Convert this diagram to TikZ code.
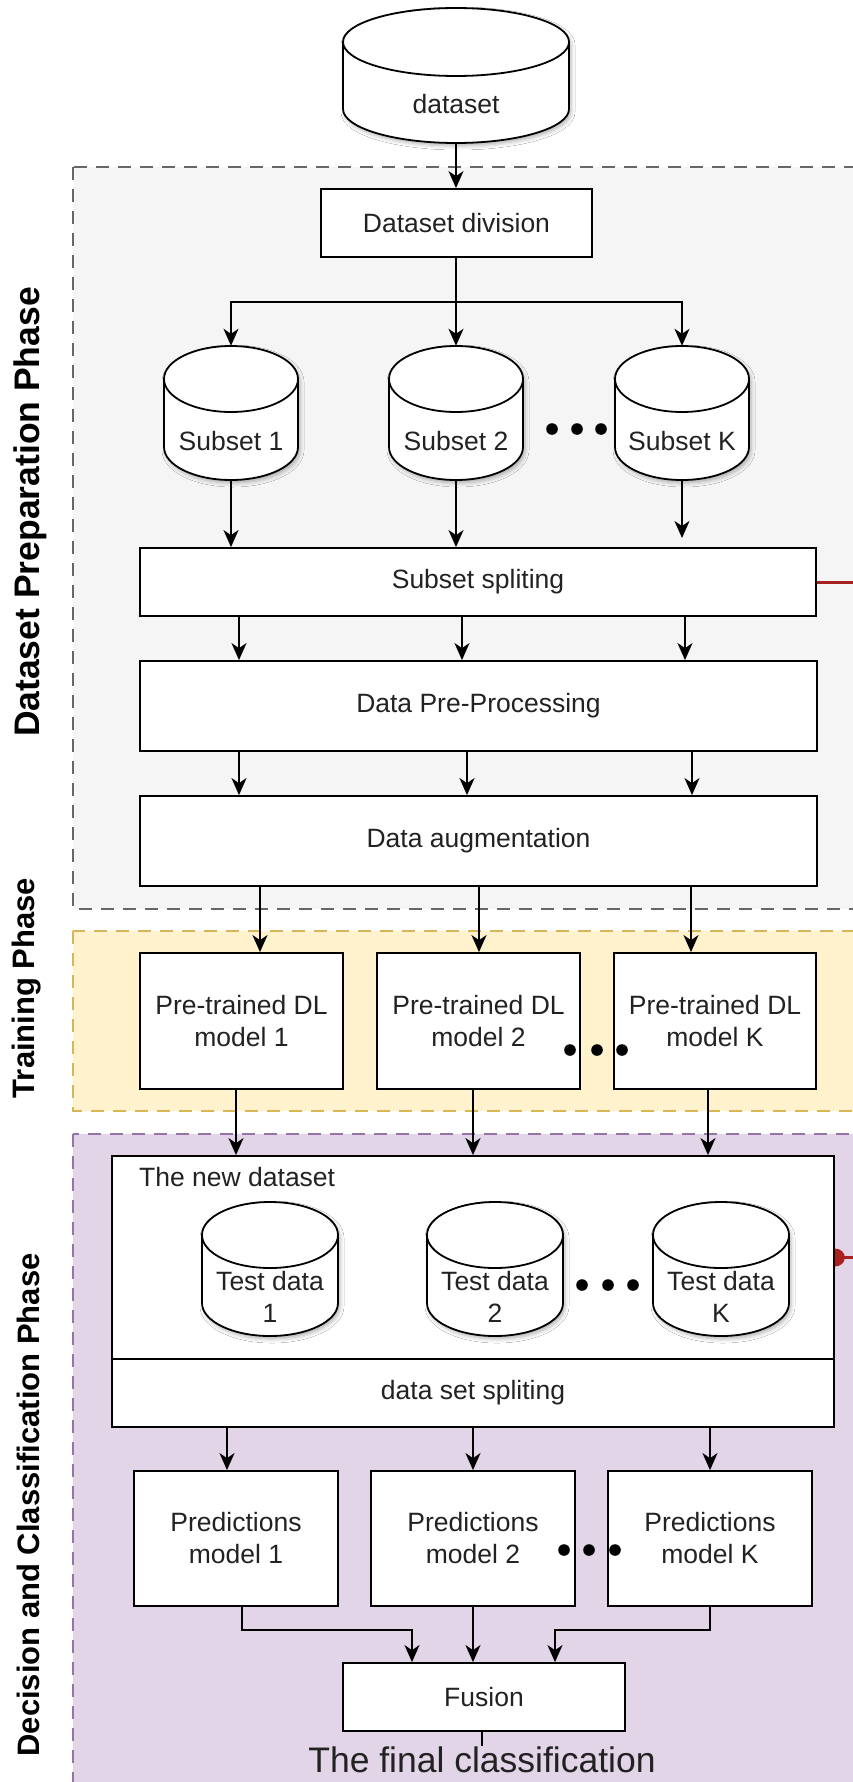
\documentclass[tikz,border=0pt]{standalone}
\usepackage{fontspec}
\setmainfont{Liberation Sans}
\usetikzlibrary{arrows.meta,calc,shadows.blur}

\definecolor{prepfill}{HTML}{F5F5F5}
\definecolor{prepline}{HTML}{666666}
\definecolor{trainfill}{HTML}{FFF2CC}
\definecolor{trainline}{HTML}{D6B656}
\definecolor{decfill}{HTML}{E1D5E7}
\definecolor{decline}{HTML}{9673A6}
\definecolor{linkred}{HTML}{A82222}
\definecolor{inktext}{HTML}{222222}

\tikzset{
  boxfont/.style={font=\fontsize{26.5}{32}\selectfont, text=inktext},
  procbox/.style={draw=black, fill=white, line width=1.8pt, inner sep=0pt,
                  align=center, boxfont},
  cylbody/.style={draw=black, fill=white, line width=1.8pt,
                  blur shadow={shadow xshift=2pt, shadow yshift=-3pt,
                               shadow blur radius=4pt, shadow opacity=30}},
  cylrim/.style={draw=black, line width=1.8pt},
  cylhold/.style={inner sep=0pt, draw=none},
  cyltext/.style={inner sep=0pt, align=center, boxfont},
  conn/.style={draw=black, line width=1.8pt,
               -{Stealth[length=17pt, width=15pt, inset=5pt]}},
  wire/.style={draw=black, line width=1.8pt},
  redlink/.style={draw=linkred, line width=3pt},
  zone/.style={line width=1.5pt, dash pattern=on 13pt off 9pt},
  phaselbl/.style={rotate=90, inner sep=0pt, text=black,
                   font=\bfseries\fontsize{31}{36}\selectfont},
  dot/.style={fill=black}
}

% database cylinder: name, left, right, top, bottom, ellipse radius, text
\newcommand\dbcyl[7]{%
  \path[cylbody] (#2,{-(#4+#6)}) -- (#2,{-(#5-#6)})
    arc[start angle=180, end angle=360, x radius={(#3-#2)/2}, y radius=#6]
    -- (#3,{-(#4+#6)})
    arc[start angle=0, end angle=180, x radius={(#3-#2)/2}, y radius=#6] -- cycle;
  \draw[cylrim] (#2,{-(#4+#6)})
    arc[start angle=180, end angle=360, x radius={(#3-#2)/2}, y radius=#6];
  \node[cylhold, minimum width={#3-#2}, minimum height={#5-#4}] (#1)
    at ({(#2+#3)/2},{-(#4+#5)/2}) {};
  \node[cyltext] (#1-label) at ({(#2+#3)/2},{-((#4+2*#6+#5)/2-5)}) {#7};
}

\begin{document}
\begin{tikzpicture}[x=1pt, y=1pt]
\useasboundingbox (0,0) rectangle (853,-1782);
\clip (0,0) rectangle (853,-1782);
\fill[white] (0,0) rectangle (853,-1782);

% phase zones
\path[zone, fill=prepfill, draw=prepline] (73,-167) rectangle (900,-909);
\path[zone, fill=trainfill, draw=trainline] (73,-931) rectangle (900,-1111);
\path[zone, fill=decfill, draw=decline] (73,-1134) rectangle (900,-1850);

% phase titles
\node[phaselbl, font=\bfseries\fontsize{35.5}{40}\selectfont] (lblprep) at (30,-512) {Dataset Preparation Phase};
\node[phaselbl] (lbltrain) at (27,-988) {Training Phase};
\node[phaselbl] (lbldec) at (28,-1505) {Decision and Classification Phase};

% source dataset and its subsets
\dbcyl{dataset}{343}{569}{8}{143}{34}{dataset}
\node[procbox, minimum width=271, minimum height=68] (div) at (456.5,-223) {Dataset division};
\dbcyl{s1}{164}{298}{346}{480}{33}{Subset 1}
\dbcyl{s2}{389}{523}{346}{480}{33}{Subset 2}
\dbcyl{sK}{615}{749}{346}{480}{33}{Subset K}

% preparation pipeline
\node[procbox, minimum width=676, minimum height=68] (split) at (478,-582) {Subset spliting};
\node[procbox, minimum width=677, minimum height=90] (prep) at (478.5,-706) {Data Pre-Processing};
\node[procbox, minimum width=677, minimum height=90] (aug) at (478.5,-841) {Data augmentation};

% trained models
\node[procbox, minimum width=203, minimum height=136] (m1) at (241.5,-1021) {Pre-trained DL\\model 1};
\node[procbox, minimum width=203, minimum height=136] (m2) at (478.5,-1021) {Pre-trained DL\\model 2};
\node[procbox, minimum width=202, minimum height=136] (mK) at (715,-1021) {Pre-trained DL\\model K};

% new dataset with its test parts
\node[procbox, minimum width=722, minimum height=203] (newds) at (473,-1257.5) {};
\node[procbox, minimum width=722, minimum height=68] (dssplit) at (473,-1393) {data set spliting};
\node[cyltext, anchor=west] (newdslbl) at (139,-1177) {The new dataset};
\dbcyl{t1}{202}{338}{1202}{1336}{33}{Test data\\1}
\dbcyl{t2}{427}{563}{1202}{1336}{33}{Test data\\2}
\dbcyl{tK}{653}{789}{1202}{1336}{33}{Test data\\K}

% predictions and fusion
\node[procbox, minimum width=204, minimum height=135] (p1) at (236,-1538.5) {Predictions\\model 1};
\node[procbox, minimum width=204, minimum height=135] (p2) at (473,-1538.5) {Predictions\\model 2};
\node[procbox, minimum width=204, minimum height=135] (pK) at (710,-1538.5) {Predictions\\model K};
\node[procbox, minimum width=282, minimum height=68] (fusion) at (484,-1697) {Fusion};
\node[inner sep=1pt, text=inktext, font=\fontsize{35.5}{40}\selectfont] (final) at (482,-1760) {The final classification};

% connectors
\coordinate (fork) at (456,-302);
\coordinate (kstop) at (682,-538);
\coordinate (redA) at (860,-582);
\coordinate (redB) at (860,-1257.5);

\draw[conn] (dataset.south) -- (dataset.south |- div.north);
\draw[wire] (div.south -| fork) -- (fork);
\draw[conn] (fork) -| (s1.north);
\draw[conn] (fork) -- (s2.north -| fork);
\draw[conn] (fork) -| (sK.north);

\draw[conn] (s1.south) -- (s1.south |- split.north);
\draw[conn] (s2.south) -- (s2.south |- split.north);
\draw[conn] (sK.south) -- (kstop);

\foreach \x in {239,462,685} \draw[conn] (split.south -| \x,0) -- (prep.north -| \x,0);
\foreach \x in {239,467,692} \draw[conn] (prep.south -| \x,0) -- (aug.north -| \x,0);
\foreach \x in {260,479,691} \draw[conn] (aug.south -| \x,0) -- (m1.north -| \x,0);
\foreach \x in {236,473,708} \draw[conn] (m1.south -| \x,0) -- (newds.north -| \x,0);
\foreach \x in {227,473,710} \draw[conn] (dssplit.south -| \x,0) -- (p1.north -| \x,0);

\draw[conn] (p1.south -| 242,0) -- ++(0,-23) -| (fusion.north -| 412,0);
\draw[conn] (p2.south) -- (p2.south |- fusion.north);
\draw[conn] (pK.south) -- ++(0,-23) -| (fusion.north -| 555,0);
\draw[wire] (fusion.south -| final.north) -- (final.north);

% links leaving to the right
\draw[redlink] (split.east) -- (redA);
\draw[redlink] (newds.east) -- (redB);
\fill[linkred] ([yshift=9pt]newds.east)
  arc[start angle=90, end angle=-90, x radius=10, y radius=9] -- cycle;

% ellipsis dots
\foreach \x in {552,577,601} \fill[dot] (\x,-429) circle[radius=5.8];
\foreach \x in {570,597,622} \fill[dot] (\x,-1050) circle[radius=5.8];
\foreach \x in {582,608,633} \fill[dot] (\x,-1285) circle[radius=5.8];
\foreach \x in {564,589,615} \fill[dot] (\x,-1550) circle[radius=5.8];
\end{tikzpicture}
\end{document}
